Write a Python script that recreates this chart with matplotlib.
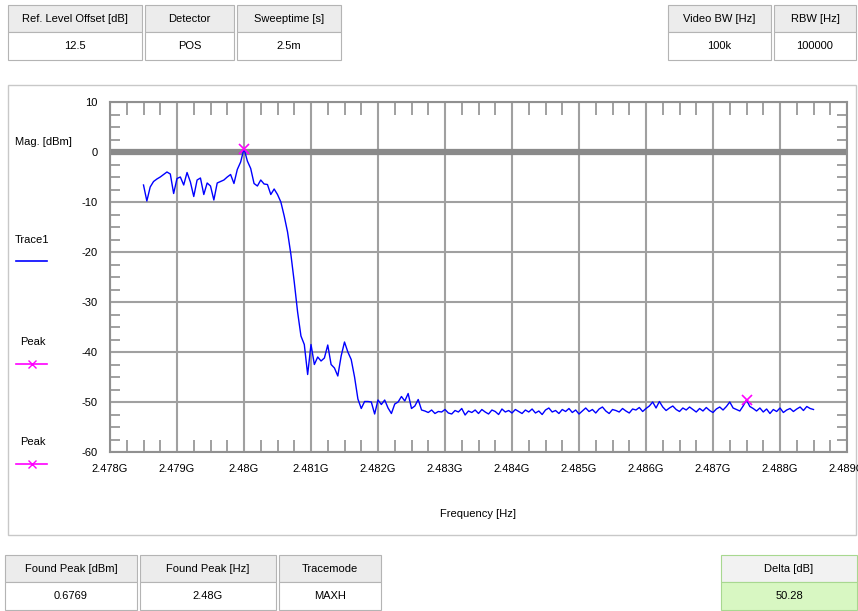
import numpy as np
import matplotlib.pyplot as plt
from matplotlib.patches import Rectangle
from matplotlib.lines import Line2D
from matplotlib.ticker import MultipleLocator, FuncFormatter

plt.rcParams['font.family'] = ['Liberation Sans', 'DejaVu Sans']
plt.rcParams['axes.unicode_minus'] = False

# measured trace, 2.4785 GHz .. 2.4885 GHz sweep (dBm)
trace_dbm = [
    -6.6, -9.8, -7.0, -5.9, -5.4, -5.0, -4.5, -4.0, -4.4, -8.3,
    -5.3, -5.0, -6.6, -4.1, -6.0, -8.9, -5.6, -5.2, -8.5, -6.2,
    -6.8, -9.6, -6.2, -5.9, -5.6, -5.0, -4.5, -6.3, -3.5, -2.0,
    0.68, -1.8, -3.3, -6.3, -6.8, -5.6, -6.4, -6.5, -8.5, -7.4,
    -8.5, -10.0, -12.8, -16.0, -20.5, -26.0, -32.0, -36.8, -38.5, -44.5,
    -38.5, -42.5, -41.0, -41.8, -41.2, -38.6, -42.5, -43.2, -44.8, -40.8,
    -38.0, -40.0, -41.5, -45.0, -49.4, -51.3, -49.9, -49.9, -50.0, -52.4,
    -49.6, -50.5, -49.6, -51.2, -52.3, -50.4, -50.0, -48.9, -49.8, -48.3,
    -51.3, -50.8, -49.5, -51.6,
    -51.8, -52.1, -51.6, -52.3, -51.9, -52.0, -51.5, -52.2, -52.4, -51.7,
    -52.0, -51.3, -52.6, -51.8, -52.1, -51.6,
    -52.3, -51.5, -52.0, -52.4, -51.6, -51.9, -52.5, -51.4, -52.0, -51.7,
    -52.2, -51.5, -51.9, -52.3, -51.6, -52.0,
    -51.4, -52.2, -51.8, -52.5, -51.6, -51.2, -52.0, -51.7, -52.3, -51.5,
    -51.9, -51.3, -52.1, -51.6, -52.4, -51.8,
    -51.2, -51.9, -51.5, -52.2, -51.4, -51.0, -51.8, -52.3, -51.5, -51.7,
    -52.0, -51.3, -51.8, -52.2, -51.4, -51.6,
    -51.1, -51.9, -51.3, -50.8, -50.0, -51.2, -49.9, -51.0, -51.7, -51.2,
    -50.8, -51.5, -51.9, -51.2, -51.6, -51.0,
    -51.5, -52.0, -51.3, -51.8, -51.1, -51.7, -52.1, -51.4, -51.0, -51.6,
    -50.9, -50.0, -51.2, -51.5, -51.8, -50.8,
    -49.6, -50.9, -51.3, -51.8, -51.2, -52.0, -51.4, -52.3, -51.5, -51.9,
    -51.2, -52.1, -51.6, -51.3, -51.9, -51.4,
    -51.0, -51.7, -50.9, -51.3, -51.5,
]
sweep_start = 2.4785e9
sweep_stop = 2.4885e9
freq_hz = np.linspace(sweep_start, sweep_stop, len(trace_dbm))

peak_hz = [2.48e9, 2.4875e9]
peak_dbm = [0.6769, -49.6]

top_left_heads = ['Ref. Level Offset [dB]', 'Detector', 'Sweeptime [s]']
top_left_vals = ['12.5', 'POS', '2.5m']
top_right_heads = ['Video BW [Hz]', 'RBW [Hz]']
top_right_vals = ['100k', '100000']
bottom_heads = ['Found Peak [dBm]', 'Found Peak [Hz]', 'Tracemode']
bottom_vals = ['0.6769', '2.48G', 'MAXH']
delta_head = ['Delta [dB]']
delta_vals = ['50.28']

W, H = 858, 611
FS = 8
fig = plt.figure(figsize=(W / 100, H / 100), dpi=100)
fig.patch.set_facecolor('white')

# overlay in pixel coords for the panels / tables
bg = fig.add_axes([0, 0, 1, 1], zorder=0)
bg.set_xlim(0, W)
bg.set_ylim(H, 0)
bg.axis('off')

bg.add_patch(Rectangle((8, 85), 848, 450, facecolor='white',
                       edgecolor='#c8c8c8', lw=1.0))


def table(x_edges, y0, heads, vals, head_fc='#ececec', val_fc='white',
          ec='#b4b4b4'):
    for k in range(len(heads)):
        x0, x1 = x_edges[k]
        bg.add_patch(Rectangle((x0, y0), x1 - x0, 27, facecolor=head_fc,
                               edgecolor=ec, lw=0.8))
        bg.add_patch(Rectangle((x0, y0 + 27), x1 - x0, 28, facecolor=val_fc,
                               edgecolor=ec, lw=0.8))
        xc = (x0 + x1) / 2
        bg.text(xc, y0 + 14, heads[k], ha='center', va='center', fontsize=FS)
        bg.text(xc, y0 + 41, vals[k], ha='center', va='center', fontsize=FS)


table([(8, 142), (145, 234), (237, 341)], 5, top_left_heads, top_left_vals)
table([(668, 771), (774, 856)], 5, top_right_heads, top_right_vals)
table([(5, 137), (140, 276), (279, 381)], 555, bottom_heads, bottom_vals)
table([(721, 857)], 555, delta_head, delta_vals, head_fc='#f2f2f2',
      val_fc='#d8f7c2', ec='#a8d890')

# left side legend
bg.text(15, 142, 'Mag. [dBm]', ha='left', va='center', fontsize=FS)
bg.text(15, 240, 'Trace1', ha='left', va='center', fontsize=FS)
bg.add_line(Line2D([16, 47], [261, 261], color='#0000ff', lw=1.2))
for yy in (342, 442):
    bg.text(20, yy, 'Peak', ha='left', va='center', fontsize=FS)
    bg.add_line(Line2D([16, 47], [yy + 22, yy + 22], color='#ff00ff', lw=1.2))
    bg.plot([31.5], [yy + 22], marker='x', color='#ff00ff', markersize=6)

# main plot
ax = fig.add_axes([110 / W, 1 - 452 / H, 737 / W, 350 / H], zorder=1)
ax.set_xlim(2.478e9, 2.489e9)
ax.set_ylim(-60, 10)

ax.xaxis.set_major_locator(MultipleLocator(1e6))
ax.xaxis.set_minor_locator(MultipleLocator(0.25e6))
ax.yaxis.set_major_locator(MultipleLocator(10))
ax.yaxis.set_minor_locator(MultipleLocator(2.5))
ax.xaxis.set_major_formatter(FuncFormatter(lambda v, p: f'{v / 1e9:g}G'))
ax.yaxis.set_major_formatter(FuncFormatter(lambda v, p: f'{v:g}'))

ax.grid(True, which='major', color='#a0a0a0', lw=1.5, zorder=1)
ax.axhline(0, color='#8a8a8a', lw=4.5, zorder=2)
ax.tick_params(which='both', direction='in', top=True, right=True,
               colors='#909090', labelcolor='black', labelsize=FS)
ax.tick_params(which='major', length=0, pad=9)
ax.tick_params(axis='x', which='minor', length=9, width=1.2)
ax.tick_params(axis='y', which='minor', length=7, width=1.2)
for s in ax.spines.values():
    s.set_color('#909090')
    s.set_linewidth(1.5)

ax.plot(freq_hz, trace_dbm, color='#0000ff', lw=1.0, zorder=3)
ax.plot(peak_hz, peak_dbm, ls='none', marker='x', color='#ff00ff',
        markersize=7, mew=1.2, zorder=4)

ax.set_xlabel('Frequency [Hz]', fontsize=FS, labelpad=25)

fig.savefig('out.png', dpi=100)
